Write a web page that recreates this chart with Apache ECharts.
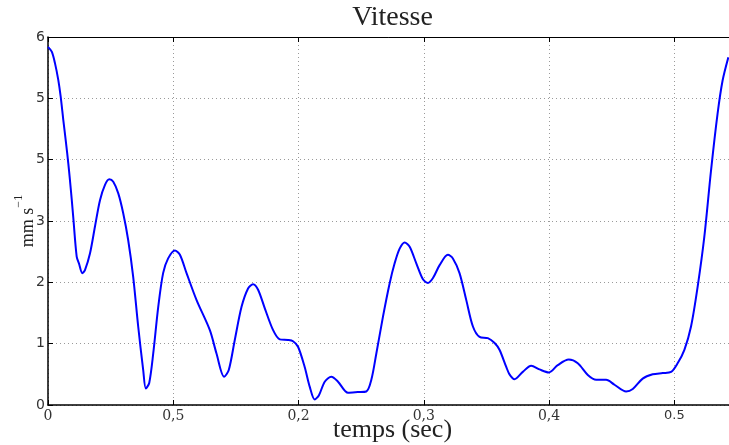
<!DOCTYPE html>
<html>
<head>
<meta charset="utf-8">
<script src="https://cdn.jsdelivr.net/npm/echarts@6/dist/echarts.min.js"></script>
<style>html,body{margin:0;padding:0;background:#fff}#c{width:729px;height:445px}</style>
</head>
<body>
<div id="c"></div>
<script>
// time (s)
var timeValues = [0.000,0.003,0.0056,0.0082,0.0101,0.0122,0.0144,0.0162,0.0175,0.0189,0.0202,0.0229,0.0247,0.0274,0.0295,0.0335,0.0375,0.0415,0.0455,0.0489,0.0521,0.0561,0.0600,0.0640,0.0680,0.0720,0.0760,0.0781,0.0808,0.0840,0.0880,0.0919,0.0959,0.1013,0.1053,0.1106,0.1186,0.1292,0.1345,0.1406,0.1443,0.1491,0.1545,0.1597,0.1637,0.1677,0.1730,0.1797,0.1850,0.1916,0.1956,0.1996,0.2049,0.2089,0.2129,0.2163,0.2209,0.2262,0.2315,0.2395,0.2474,0.2541,0.2581,0.2621,0.2674,0.2727,0.2767,0.2807,0.2847,0.2887,0.2940,0.2993,0.3033,0.3073,0.3126,0.3192,0.3232,0.3285,0.3339,0.3392,0.3445,0.3511,0.3565,0.3604,0.3658,0.3684,0.3724,0.3790,0.3857,0.3923,0.3998,0.4069,0.4157,0.4229,0.4309,0.4376,0.4455,0.4522,0.4615,0.4668,0.4747,0.4827,0.4907,0.4974,0.5026,0.5080,0.5133,0.5186,0.5239,0.5293,0.5345,0.5385,0.5431];
// speed (mm/s)
var speedValues = [5.84,5.76,5.57,5.30,5.03,4.65,4.27,3.94,3.67,3.36,3.05,2.42,2.31,2.15,2.20,2.47,2.91,3.34,3.59,3.68,3.64,3.45,3.13,2.69,2.09,1.28,0.57,0.27,0.36,0.84,1.60,2.15,2.39,2.52,2.45,2.15,1.71,1.22,0.84,0.46,0.57,1.06,1.60,1.90,1.97,1.88,1.58,1.22,1.07,1.06,1.04,0.95,0.62,0.30,0.09,0.16,0.38,0.46,0.38,0.20,0.21,0.22,0.41,0.84,1.44,1.98,2.31,2.55,2.65,2.58,2.31,2.05,1.99,2.07,2.28,2.45,2.39,2.15,1.71,1.28,1.11,1.09,1.01,0.90,0.62,0.50,0.42,0.54,0.64,0.58,0.53,0.65,0.74,0.68,0.49,0.41,0.41,0.33,0.22,0.26,0.43,0.50,0.52,0.54,0.68,0.90,1.28,1.93,2.74,3.83,4.75,5.29,5.67];
var xTickLabels = ['0','0,5','0,2','0,3','0,4','0.5'];
var yTickLabels = ['0','1','2','3','5','5','6'];
var titleText = 'Vitesse';
var xName = 'temps (sec)';
var yNameBase = 'mm s';
var yNameSup = '\u22121';

var seriesData = timeValues.map(function(t,i){return [t, speedValues[i]];});
var chart = echarts.init(document.getElementById('c'), null, {renderer:'canvas'});
var grid = {left:48, top:37, right:-8, bottom:40, containLabel:false, outerBoundsMode:'none'};
var dotted = {show:true, lineStyle:{color:'#9a9a9a', width:1, type:[1,3]}};
chart.setOption({
  animation:false,
  backgroundColor:'#fff',
  grid:grid,
  xAxis:[{
    type:'value', min:0, max:0.55, interval:0.1, position:'bottom',
    axisLine:{show:true, onZero:false, lineStyle:{color:'#000', width:1.5}},
    axisTick:{show:true, inside:true, length:5, lineStyle:{color:'#000'}},
    splitLine:dotted,
    axisLabel:{show:true, showMaxLabel:false, margin:4, color:'#333', fontFamily:'DejaVu Serif', fontSize:14,
      formatter:function(v){var i=Math.round(v*10); if(Math.abs(v*10-i)>1e-6||!xTickLabels[i]) return ''; var s=xTickLabels[i]; return s.indexOf('.')>=0 ? '{s|'+s+'}' : s;},
      rich:{s:{fontFamily:'DejaVu Sans', fontSize:13, color:'#333'}}},
    name:xName, nameLocation:'middle', nameGap:12, nameMoveOverlap:false,
    nameTextStyle:{fontFamily:'Liberation Serif', fontSize:26, color:'#222', verticalAlign:'top'}
  },{
    type:'value', min:0, max:0.55, interval:0.1, position:'top',
    axisLine:{show:true, onZero:false, lineStyle:{color:'#000', width:1}},
    axisTick:{show:true, inside:true, length:5, lineStyle:{color:'#000'}},
    splitLine:{show:false}, axisLabel:{show:false},
    name:titleText, nameLocation:'middle', nameGap:5, nameMoveOverlap:false,
    nameTextStyle:{fontFamily:'Liberation Serif', fontSize:28, color:'#222', verticalAlign:'bottom'}
  }],
  yAxis:[{
    type:'value', min:0, max:6, interval:1, position:'left',
    axisLine:{show:true, onZero:false, lineStyle:{color:'#000', width:1.5}},
    axisTick:{show:true, inside:true, length:5, lineStyle:{color:'#000'}},
    splitLine:dotted,
    axisLabel:{show:true, margin:3, color:'#333', fontFamily:'DejaVu Sans', fontSize:14,
      formatter:function(v){var i=Math.round(v); return yTickLabels[i]!==undefined?yTickLabels[i]:'';}},
    name:'{a|'+yNameBase+'}{b|'+yNameSup+'}', nameLocation:'middle', nameGap:11, nameRotate:90, nameMoveOverlap:false,
    nameTextStyle:{rich:{a:{fontFamily:'Liberation Serif', fontSize:18, color:'#222', lineHeight:24, verticalAlign:'bottom'}, b:{fontFamily:'Liberation Serif', fontSize:12, color:'#222', lineHeight:12, verticalAlign:'top'}}}
  }],
  series:[{
    type:'line', xAxisIndex:0, yAxisIndex:0, data:seriesData, showSymbol:false, smooth:0.3,
    lineStyle:{color:'#0000ff', width:2}, clip:true
  }]
});
</script>
</body>
</html>
